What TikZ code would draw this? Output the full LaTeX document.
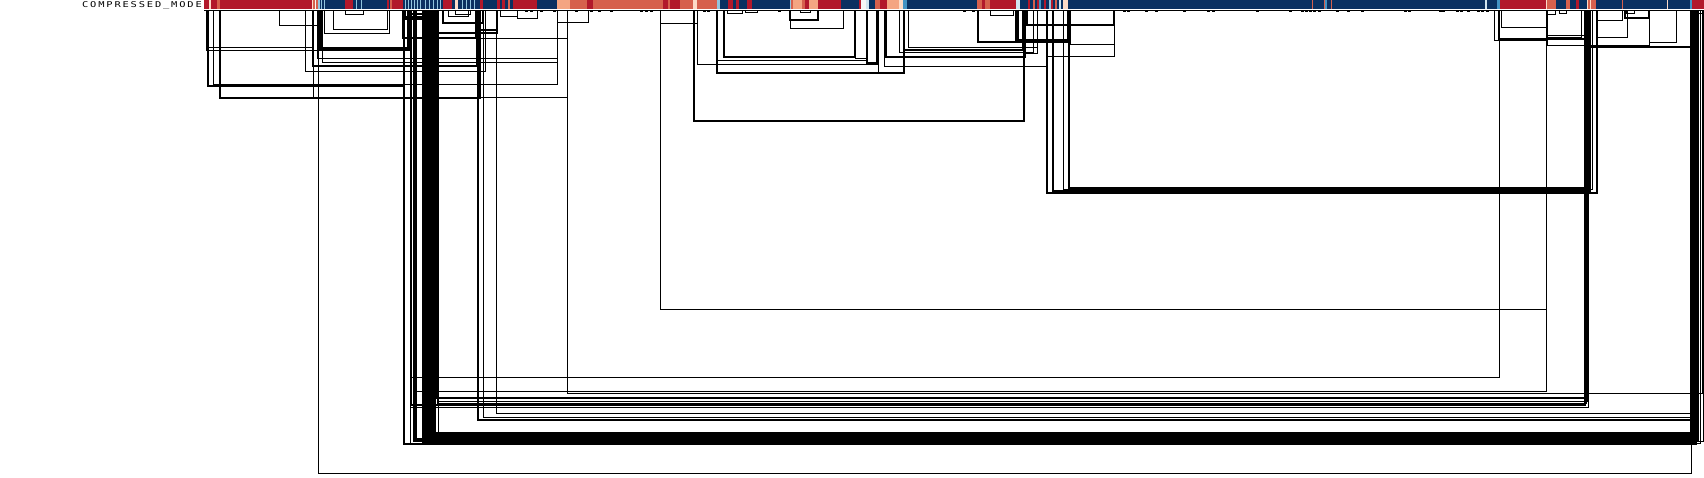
\documentclass[tikz,border=0pt]{standalone}
\usepackage{fontspec}
\newfontfamily\labelfont[LetterSpace=23,FakeStretch=1.3]{DejaVu Sans Mono}
\definecolor{dred}{HTML}{B2182B}
\definecolor{sal}{HTML}{D6604D}
\definecolor{lsal}{HTML}{F4A582}
\definecolor{pale}{HTML}{FDDBC7}
\definecolor{wht}{HTML}{F7F7F7}
\definecolor{lblue}{HTML}{D1E5F0}
\definecolor{mblue}{HTML}{92C5DE}
\definecolor{blue}{HTML}{4393C3}
\definecolor{navy}{HTML}{0A3061}
\tikzset{arcline/.style={draw=black,line join=miter}}
\begin{document}
\begin{tikzpicture}[x=1pt,y=-1pt]
\useasboundingbox (0,0) rectangle (1704,478);
\fill[white] (0,0) rectangle (1704,478);
% colour bar
\foreach \a/\b/\c in {204/209/dred, 209/211/pale, 211/217/dred, 217/220/sal, 220/312/dred, 312/313/pale, 313/315/sal, 315/316/wht, 316/318/sal, 318/320/mblue, 320/345/navy, 345/353/dred, 353/387/navy, 387/389/dred, 389/390/navy, 390/392/sal, 392/403/dred, 403/443/navy, 443/452/dred, 452/480/navy, 480/483/dred, 483/497/navy, 497/500/dred, 500/502/navy, 502/505/dred, 505/508/navy, 508/510/sal, 510/513/navy, 513/537/dred, 537/557/navy, 557/570/lsal, 570/587/sal, 587/593/dred, 593/663/sal, 663/668/dred, 668/670/sal, 670/680/dred, 680/693/sal, 693/697/pale, 697/717/sal, 717/720/mblue, 720/728/navy, 728/733/dred, 733/736/navy, 736/739/dred, 739/747/navy, 747/752/dred, 752/790/navy, 790/791/mblue, 791/793/sal, 793/802/lsal, 802/805/sal, 805/809/dred, 809/818/lsal, 818/841/dred, 841/859/navy, 859/861/dred, 861/866/wht, 866/869/lblue, 869/875/navy, 875/880/sal, 880/887/dred, 887/899/lsal, 899/903/pale, 903/907/blue, 907/977/navy, 977/982/sal, 982/985/dred, 985/990/sal, 990/1016/dred, 1016/1020/lblue, 1020/1028/navy, 1028/1030/dred, 1030/1033/navy, 1033/1035/sal, 1035/1037/navy, 1037/1039/dred, 1039/1041/blue, 1041/1044/navy, 1044/1046/dred, 1046/1049/navy, 1049/1051/mblue, 1051/1053/dred, 1053/1055/navy, 1055/1057/sal, 1057/1059/navy, 1059/1061/lblue, 1061/1063/navy, 1063/1068/pale, 1068/1312/navy, 1312/1313/sal, 1313/1324/navy, 1324/1325/sal, 1325/1327/blue, 1327/1331/navy, 1331/1332/sal, 1332/1485/navy, 1485/1487/lblue, 1487/1497/navy, 1497/1500/blue, 1500/1546/dred, 1546/1547/pale, 1547/1556/sal, 1556/1566/navy, 1566/1570/sal, 1570/1576/navy, 1576/1579/dred, 1579/1587/navy, 1587/1588/pale, 1588/1590/sal, 1590/1591/pale, 1591/1596/sal, 1596/1622/navy, 1622/1623/sal, 1623/1667/navy, 1667/1668/pale, 1668/1690/navy, 1690/1692/blue, 1692/1704/dred}
  {\fill[\c] (\a,0) rectangle (\b,9);}
\foreach \a in {321,324,356,361,405,408,411,414,417,420,425,429,433,437,440,462,466,470,474}
  {\fill[mblue] (\a,0) rectangle (\a+0.8,9);}
\fill[pale] (455,0) rectangle (458,9);
\draw[line width=1] (204,10.3) -- (1704,10.3);
% label
\node[anchor=base east,inner sep=0pt,font=\labelfont\fontsize{8}{8}\selectfont] (lbl) at (202,7.6) {COMPRESSED\_MODE};
% arcs: left x / right x / depth / line width
\foreach \a/\b/\c/\w in {
 206/313/47/0.9, 206/410/50/0.9, 208/404/86/1.8, 213/557/84/0.9, 220/480/98/1.8, 313/567/97/0.9,
 279/317/25/0.9, 305/485/71/0.9, 313/477/66/2, 317/557/58/0.9, 322/557/62/0.9, 320/408/49/3,
 324/389/33/0.9, 333/387/29/0.9, 345/363/14/0.9, 403/438/19/2, 405/436/17/1.5, 408/432/14/1.5,
 403/567/38/0.9, 403/476/38/1.8, 438/497/33/2, 480/497/30/1.5, 443/483/23/2, 448/468/16/0.9, 455/470/14/0.9,
 500/517/16/0.9, 517/537/18/0.9, 557/588/22/0.9, 660/697/23/0.9, 694/1024/121/1.2, 697/878/64/0.9,
 717/904/73/1.8, 724/855/57/2.2, 717/867/60/0.9, 790/843/28/0.9, 790/818/20/1.8, 727/742/13/0.9,
 745/757/12/0.9, 800/810/12/0.9, 855/867/58/0.9, 867/877/63/1.8, 878/904/72/0.9, 884/1047/66/0.9,
 886/1025/57/1.8, 899/1033/52/0.9, 904/1023/50/2, 908/1037/47/0.9, 978/1016/42/1.8, 990/1013/15/0.9,
 1016/1070/42/1.8, 1018/1068/40/1.5, 1025/1037/53/0.9, 1027/1114/25/1.8, 1070/1114/44/0.9, 1047/1114/56/0.9,
 1047/1597/193/1.2, 1053/1590/191/2, 1063/1592/189/0.9, 1069/1587/188/2,
 1494/1546/40/0.9, 1499/1587/39/2.2, 1501/1546/27/0.9, 1547/1581/37/0.9, 1547/1584/35/0.9, 1547/1555/14/0.9,
 1559/1566/13/0.9, 1596/1622/20/0.9, 1597/1627/37/0.9, 1589/1691/47/2, 1547/1649/45/0.9, 1625/1649/18/1.8,
 1626/1634/13/0.9, 1649/1676/42/0.9, 1697/1704/13/0.9,
 318/1691/473/0.9, 660/1546/309/0.9, 411/1499/377/0.9, 567/1702/393/0.9, 414/1546/391/0.9,
 437/1588/398/2, 437/1587/401/0.9, 437/1586/403/0.9, 411/1585/405/1.8, 410/1588/407/0.9,
 496/1690/413/0.9, 483/1690/417/0.9, 478/1691/420/2,
 404/1696/444/2, 410/1700/443/0.9, 413/1703/441/0.9, 415/1697/439/3, 438/1691/433/0.9}
 {\draw[arcline,line width=\w] (\a,10) |- (\b,\c) -- (\b,10);}
% dense bundle
\foreach \i in {0,...,11}
 {\draw[arcline,line width=1.5] (423+1.1*\i,10) |- (1695-0.35*\i,442-0.8*\i) -- (1695-0.35*\i,10);}
% small marks under the bar
\foreach \a in {525,530,540,553,575,590,598,610,640,645,650,703,707,778,963,972,1123,1127,1145,1155,1183,1207,1212,1256,1289,1301,1305,1309,1313,1318,1336,1347,1361,1404,1408,1439,1442,1456,1460,1467,1477,1481,1486}
 {\fill[black] (\a,10.3) rectangle (\a+2.6,11.9);}
\end{tikzpicture}
\end{document}
